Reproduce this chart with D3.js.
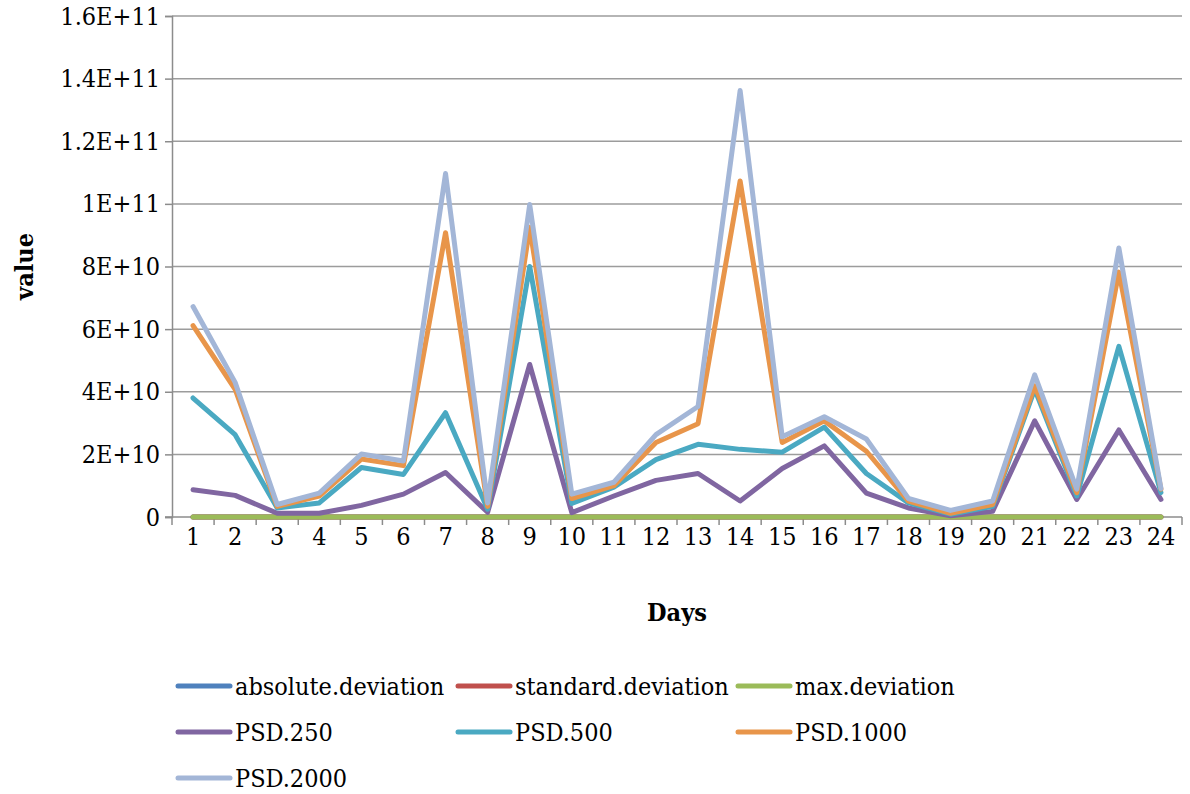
<!DOCTYPE html>
<html>
<head>
<meta charset="utf-8">
<script src="https://cdnjs.cloudflare.com/ajax/libs/d3/7.8.5/d3.min.js"></script>
<style>
	body { margin: 0; background: #fff; }
	text { font-family: "DejaVu Serif Condensed", "Liberation Serif", serif; fill: #000; }
</style>
</head>
<body>
<script>
	var days = ["1","2","3","4","5","6","7","8","9","10","11","12","13","14","15","16","17","18","19","20","21","22","23","24"];
	var seriesNames = ["absolute.deviation","standard.deviation","max.deviation","PSD.250","PSD.500","PSD.1000","PSD.2000"];
	var seriesColors = ["#4f81bd","#c0504d","#9bbb59","#8066a1","#4aa9c2","#e8954a","#a3b6d7"];
	var yTicks = [0, 2e10, 4e10, 6e10, 8e10, 1e11, 1.2e11, 1.4e11, 1.6e11];

	// values in units of 1E+10
	var absDev = [0,0,0,0,0,0,0,0,0,0,0,0,0,0,0,0,0,0,0,0,0,0,0,0];
	var stdDev = [0,0,0,0,0,0,0,0,0,0,0,0,0,0,0,0,0,0,0,0,0,0,0,0];
	var maxDev = [0,0,0,0,0,0,0,0,0,0,0,0,0,0,0,0,0,0,0,0,0,0,0,0];
	var psd250 = [0.87,0.69,0.12,0.12,0.37,0.73,1.42,0.15,4.87,0.14,0.67,1.17,1.39,0.51,1.55,2.27,0.76,0.29,0.04,0.18,3.07,0.56,2.78,0.56];
	var psd500 = [3.80,2.63,0.29,0.45,1.58,1.36,3.33,0.25,8.00,0.43,0.95,1.83,2.32,2.16,2.07,2.87,1.39,0.45,0.09,0.34,4.08,0.67,5.45,0.78];
	var psd1000 = [6.11,4.08,0.34,0.67,1.85,1.64,9.08,0.34,9.25,0.59,1.00,2.38,2.98,10.73,2.38,3.07,2.10,0.51,0.12,0.40,4.19,0.78,7.82,0.89];
	var psd2000 = [6.72,4.30,0.40,0.76,2.01,1.79,10.97,0.45,9.98,0.73,1.11,2.63,3.53,13.62,2.56,3.20,2.49,0.59,0.21,0.51,4.54,0.89,8.59,0.91];

	var allSeries = [absDev, stdDev, maxDev, psd250, psd500, psd1000, psd2000];

	var w = 1190, h = 794,
		pd = { left: 172, right: 1182, top: 16, bottom: 517 },
		fs = "25px";

	var svg = d3.select("body").append("svg")
		.attr("width", w).attr("height", h);

	var x = d3.scaleBand().domain(days).range([pd.left, pd.right]).padding(0);
	var y = d3.scaleLinear().domain([0, 1.6e11]).range([pd.bottom, pd.top]);

	function fmt(v) {
		if (v === 0) return "0";
		var e = Math.floor(Math.log10(v));
		var m = +(v / Math.pow(10, e)).toFixed(1);
		return m + "E+" + e;
	}

	// grid
	svg.append("g").selectAll("line")
		.data(yTicks.slice(1))
		.enter().append("line")
		.attr("x1", pd.left).attr("x2", pd.right)
		.attr("y1", function(d) { return y(d); })
		.attr("y2", function(d) { return y(d); })
		.attr("stroke", "#9c9c9c").attr("stroke-width", 1.5);

	// y axis
	var yAxis = svg.append("g")
		.attr("transform", "translate(" + pd.left + ",0)")
		.call(d3.axisLeft(y).tickValues(yTicks).tickFormat(fmt).tickSize(7).tickPadding(5));
	yAxis.select(".domain").attr("stroke", "#8c8c8c").attr("stroke-width", 1.5);
	yAxis.selectAll(".tick line").attr("stroke", "#8c8c8c").attr("stroke-width", 1.5);
	yAxis.selectAll("text").attr("font-size", fs)
		.style("font-family", "'DejaVu Serif Condensed', serif");

	// x axis
	var xAxis = svg.append("g")
		.attr("transform", "translate(0," + pd.bottom + ")")
		.call(d3.axisBottom(x).tickSize(0));
	xAxis.select(".domain").remove();
	xAxis.selectAll("text").attr("font-size", fs)
		.style("font-family", "'DejaVu Serif Condensed', serif")
		.attr("y", 19).attr("dy", "0.35em");

	var bounds = days.map(function(d) { return x(d); }).concat([pd.right]);
	svg.append("line")
		.attr("x1", pd.left - 7).attr("x2", pd.right)
		.attr("y1", pd.bottom).attr("y2", pd.bottom)
		.attr("stroke", "#8c8c8c").attr("stroke-width", 1.5);
	svg.append("g").selectAll("line")
		.data(bounds)
		.enter().append("line")
		.attr("x1", function(d) { return d; }).attr("x2", function(d) { return d; })
		.attr("y1", pd.bottom).attr("y2", pd.bottom + 8)
		.attr("stroke", "#8c8c8c").attr("stroke-width", 1.5);

	// lines
	var line = d3.line()
		.x(function(d, i) { return x(days[i]) + x.bandwidth() / 2; })
		.y(function(d) { return y(d * 1e10); });

	svg.append("g").selectAll("path")
		.data(allSeries)
		.enter().append("path")
		.attr("d", line)
		.attr("fill", "none")
		.attr("stroke", function(d, i) { return seriesColors[i]; })
		.attr("stroke-width", 5)
		.attr("stroke-linejoin", "round")
		.attr("stroke-linecap", "round");

	// axis titles
	svg.append("text")
		.attr("x", (pd.left + pd.right) / 2).attr("y", 621)
		.attr("text-anchor", "middle")
		.attr("font-size", fs).attr("font-weight", "bold")
		.text("Days");

	svg.append("text")
		.attr("transform", "translate(33," + (pd.top + pd.bottom) / 2 + ") rotate(-90)")
		.attr("text-anchor", "middle")
		.attr("font-size", fs).attr("font-weight", "bold")
		.text("value");

	// legend
	var colX = [176, 456, 736], rowY = [686, 732, 778];
	var leg = svg.append("g").selectAll("g")
		.data(seriesNames)
		.enter().append("g")
		.attr("transform", function(d, i) {
			return "translate(" + colX[i % 3] + "," + rowY[Math.floor(i / 3)] + ")";
		});
	leg.append("line")
		.attr("x1", 2).attr("x2", 54)
		.attr("stroke", function(d, i) { return seriesColors[i]; })
		.attr("stroke-width", 5)
		.attr("stroke-linecap", "round");
	leg.append("text")
		.attr("x", 59).attr("dy", "0.35em")
		.attr("font-size", fs)
		.text(function(d) { return d; });
</script>
</body>
</html>
